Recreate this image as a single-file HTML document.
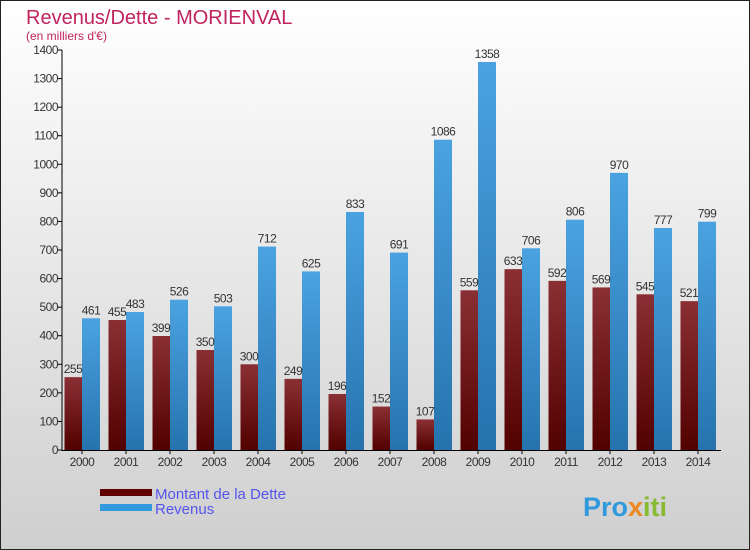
<!DOCTYPE html>
<html><head><meta charset="utf-8"><style>
body{margin:0}
#c{width:748px;height:548px;border:1px solid #222;background:linear-gradient(#ffffff,#cfcfcf);position:relative;overflow:hidden;font-family:"Liberation Sans",sans-serif}
</style></head><body>
<div id="c">
<svg id="s" width="748" height="548" xmlns="http://www.w3.org/2000/svg">
<defs>
<linearGradient id="gd" x1="0" y1="0" x2="0" y2="1"><stop offset="0" stop-color="#8a3034"/><stop offset="1" stop-color="#520000"/></linearGradient>
<linearGradient id="gr" x1="0" y1="0" x2="0" y2="1"><stop offset="0" stop-color="#4aa3e0"/><stop offset="1" stop-color="#2673ae"/></linearGradient>
</defs>
<text x="25" y="23" font-size="20" fill="#c0245e">Revenus/Dette - MORIENVAL</text>
<text x="25" y="39" font-size="12" fill="#c0245e">(en milliers d'€)</text>
<g id="g"></g>
<rect x="99" y="488" width="52" height="7" fill="#600000"/>
<rect x="99" y="503" width="52" height="7" fill="#3399dd"/>
<text x="154" y="498" font-size="15" fill="#5555ee">Montant de la Dette</text>
<text x="154" y="513" font-size="15" fill="#5555ee">Revenus</text>
<text x="582" y="515" font-size="27" font-weight="bold" fill="#3399dd">Pro<tspan fill="#ee8822">x</tspan><tspan fill="#88bb33">iti</tspan></text>
</svg></div>
<script>
const years=["2000","2001","2002","2003","2004","2005","2006","2007","2008","2009","2010","2011","2012","2013","2014"];
const dette=[255,455,399,350,300,249,196,152,107,559,633,592,569,545,521];
const revenus=[461,483,526,503,712,625,833,691,1086,1358,706,806,970,777,799];
const ticks=[0,100,200,300,400,500,600,700,800,900,1000,1100,1200,1300,1400];
const NS="http://www.w3.org/2000/svg",g=document.getElementById('g');
const y=v=>449-v*400/1400, xc=i=>81+44*i;
function el(t,a,txt){const e=document.createElementNS(NS,t);for(const k in a)e.setAttribute(k,a[k]);if(txt!==undefined)e.textContent=txt;g.appendChild(e);return e;}
ticks.forEach(t=>{
 const l=el('line',{x1:57,x2:61,y1:y(t),y2:y(t),stroke:'#000'});
 
 
 const tx=el('text',{x:57,y:y(t)+4,'font-size':12,'text-anchor':'end',fill:'#333','letter-spacing':'-0.5'},t);
 
 
});
years.forEach((yr,i)=>{
 const c=xc(i);
 const b1=el('rect',{x:c-17.5,y:y(dette[i]),width:17.5,height:y(0)-y(dette[i]),fill:'url(#gd)'});
 
 
 const b2=el('rect',{x:c,y:y(revenus[i]),width:18,height:y(0)-y(revenus[i]),fill:'url(#gr)'});
 
 
 const t1=el('text',{x:c-9,y:y(dette[i])-4,'font-size':12,'text-anchor':'middle',fill:'#333','letter-spacing':'-0.5'},dette[i]);
 
 
 const t2=el('text',{x:c+9,y:y(revenus[i])-4,'font-size':12,'text-anchor':'middle',fill:'#333','letter-spacing':'-0.5'},revenus[i]);
 
 
 const tk=el('line',{x1:c,x2:c,y1:449,y2:453,stroke:'#000'});
 
 
 const xl=el('text',{x:c,y:465,'font-size':12,'text-anchor':'middle',fill:'#333','letter-spacing':'-0.5'},yr);
 
 
});
const ya=el('line',{x1:61,x2:61,y1:y(1400),y2:450,stroke:'#000'});


const xa=el('line',{x1:61,x2:720,y1:449.5,y2:449.5,stroke:'#000'});


</script>
</body></html>
